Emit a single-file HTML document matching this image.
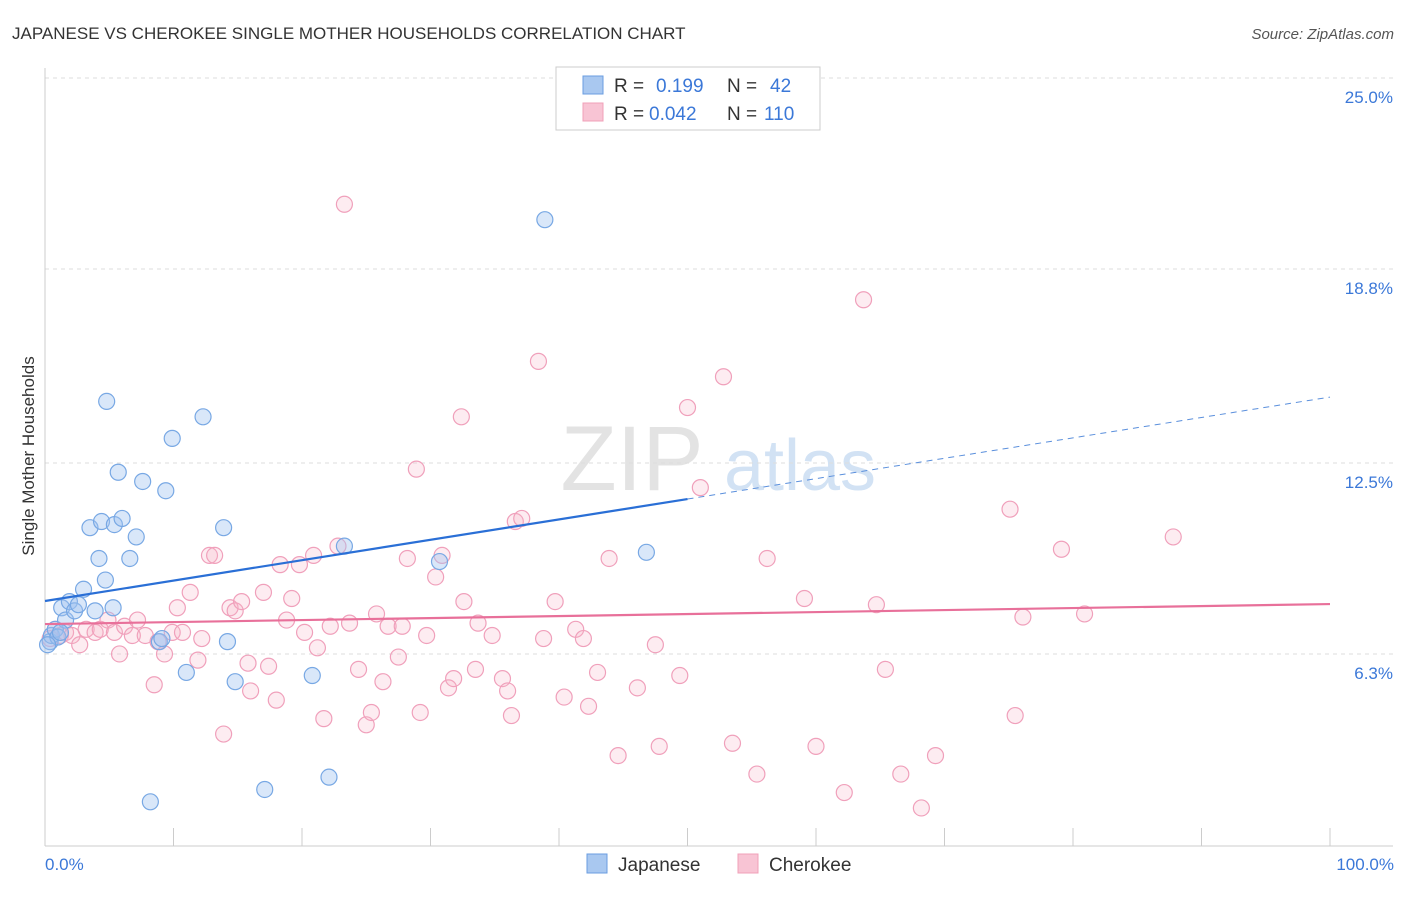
<!DOCTYPE html>
<html><head><meta charset="utf-8"><style>
body{margin:0;background:#fff;font-family:"Liberation Sans",sans-serif;}
svg text{font-family:"Liberation Sans",sans-serif;}
</style></head><body>
<svg id="chart" width="1406" height="892" viewBox="0 0 1406 892" xmlns="http://www.w3.org/2000/svg">
<text x="12" y="39" font-size="17" fill="#333">JAPANESE VS CHEROKEE SINGLE MOTHER HOUSEHOLDS CORRELATION CHART</text>
<text x="1394" y="39" font-size="15" fill="#555" text-anchor="end" font-style="italic">Source: ZipAtlas.com</text>
<g>
<text x="632" y="490" font-size="92" fill="#ddd" text-anchor="middle" font-family="Liberation Serif" opacity="0.8">ZIP</text>
<text x="800" y="490" font-size="72" fill="#c8dcf2" text-anchor="middle" opacity="0.8">atlas</text>
</g>
<g id="grid"></g>
<g id="axes"></g>
<g id="marks"></g>
<text transform="translate(34,456) rotate(-90)" font-size="17" fill="#333" text-anchor="middle">Single Mother Households</text>
<text x="45" y="870" font-size="17" fill="#3b78d8">0.0%</text>
<text x="1394" y="870" font-size="17" fill="#3b78d8" text-anchor="end">100.0%</text>
<g>
<rect x="556" y="67" width="264" height="63" fill="#fff" stroke="#ccc"/>
<rect x="583" y="76" width="20" height="18" fill="#a9c8f0" stroke="#6a9de0"/>
<rect x="583" y="103" width="20" height="18" fill="#f8c4d4" stroke="#f0a0b8"/>
<text x="614" y="92" font-size="19" fill="#333">R =</text>
<text x="656" y="92" font-size="19" fill="#3b78d8">0.199</text>
<text x="727" y="92" font-size="19" fill="#333">N =</text>
<text x="770" y="92" font-size="19" fill="#3b78d8">42</text>
<text x="614" y="120" font-size="19" fill="#333">R =</text>
<text x="649" y="120" font-size="19" fill="#3b78d8">0.042</text>
<text x="727" y="120" font-size="19" fill="#333">N =</text>
<text x="764" y="120" font-size="19" fill="#3b78d8">110</text>
</g>
<g>
<rect x="587" y="854" width="20" height="19" fill="#a9c8f0" stroke="#6a9de0"/>
<text x="618" y="871" font-size="19" fill="#333">Japanese</text>
<rect x="738" y="854" width="20" height="19" fill="#f8c4d4" stroke="#f0a0b8"/>
<text x="769" y="871" font-size="19" fill="#333">Cherokee</text>
</g>
</svg>
<script>
const yTicks=[6.3,12.5,18.8,25.0];
const yTickLabels=["6.3%","12.5%","18.8%","25.0%"];
const xTicks=[0,10,20,30,40,50,60,70,80,90,100];
const japX=[0.4,0.5,0.8,1.0,1.3,1.6,1.9,2.3,2.6,3.0,3.5,3.9,4.2,4.4,4.7,4.8,5.3,5.4,5.7,6.0,6.6,7.1,7.6,8.2,8.9,9.1,9.4,9.9,11.0,12.3,13.9,14.2,14.8,17.1,20.8,22.1,23.3,30.7,38.9,46.8,0.2,1.2];
const japY=[6.7,6.9,7.1,6.85,7.8,7.4,8.0,7.7,7.9,8.4,10.4,7.7,9.4,10.6,8.7,14.5,7.8,10.5,12.2,10.7,9.4,10.1,11.9,1.5,6.7,6.8,11.6,13.3,5.7,14.0,10.4,6.7,5.4,1.9,5.6,2.3,9.8,9.3,20.4,9.6,6.6,7.0];
const cheX=[0.4,0.8,1.2,1.6,2.1,2.7,3.2,3.9,4.3,4.9,5.4,5.8,6.2,6.8,7.2,7.8,8.5,8.8,9.3,9.9,10.3,10.7,11.3,11.9,12.2,12.8,13.2,13.9,14.4,14.8,15.3,15.8,16.0,17.0,17.4,18.0,18.3,18.8,19.2,19.8,20.2,20.9,21.2,21.7,22.2,22.8,23.3,23.7,24.4,25.0,25.4,25.8,26.3,26.7,27.5,27.8,28.2,28.9,29.2,29.7,30.4,30.9,31.4,31.8,32.4,32.6,33.5,33.7,34.8,35.6,36.0,36.3,36.6,37.1,38.4,38.8,39.7,40.4,41.3,41.9,42.3,43.0,43.9,44.6,46.1,47.5,47.8,49.4,50.0,51.0,52.8,53.5,55.4,56.2,59.1,60.0,62.2,63.7,64.7,65.4,66.6,68.2,69.3,75.1,75.5,76.1,79.1,80.9,87.8];
const cheY=[6.8,7.1,6.9,7.0,6.9,6.6,7.1,7.0,7.1,7.4,7.0,6.3,7.2,6.9,7.4,6.9,5.3,6.7,6.3,7.0,7.8,7.0,8.3,6.1,6.8,9.5,9.5,3.7,7.8,7.7,8.0,6.0,5.1,8.3,5.9,4.8,9.2,7.4,8.1,9.2,7.0,9.5,6.5,4.2,7.2,9.8,20.9,7.3,5.8,4.0,4.4,7.6,5.4,7.2,6.2,7.2,9.4,12.3,4.4,6.9,8.8,9.5,5.2,5.5,14.0,8.0,5.8,7.3,6.9,5.5,5.1,4.3,10.6,10.7,15.8,6.8,8.0,4.9,7.1,6.8,4.6,5.7,9.4,3.0,5.2,6.6,3.3,5.6,14.3,11.7,15.3,3.4,2.4,9.4,8.1,3.3,1.8,17.8,7.9,5.8,2.4,1.3,3.0,11.0,4.3,7.5,9.7,7.6,10.1];
const japTrend=[8.02,14.64];
const japSolidEnd=50;
const cheTrend=[7.27,7.92];
const NS="http://www.w3.org/2000/svg";
const sx=v=>45+v*12.85;
const sy=v=>78+(25-v)*30.8;
function mk(tag,attrs,parent){const e=document.createElementNS(NS,tag);for(const k in attrs)e.setAttribute(k,attrs[k]);parent.appendChild(e);return e;}
const grid=document.getElementById('grid'),axes=document.getElementById('axes'),marks=document.getElementById('marks');
yTicks.forEach((t,i)=>{
 const l=mk('line',{x1:45,x2:1393,y1:sy(t),y2:sy(t),stroke:'#ddd','stroke-dasharray':'4,4'},grid);
 
 
 const tx=mk('text',{x:1393,y:sy(t)+25,'font-size':17,fill:'#3b78d8','text-anchor':'end'},grid);
 tx.textContent=yTickLabels[i];
 
 
});
let a=mk('line',{x1:45,x2:45,y1:68,y2:846,stroke:'#ccc'},axes);


a=mk('line',{x1:45,x2:1393,y1:846,y2:846,stroke:'#ccc'},axes);


xTicks.forEach(t=>{
 const l=mk('line',{x1:sx(t),x2:sx(t),y1:828,y2:846,stroke:'#ccc'},axes);
 
 
});
function pts(X,Y,fill,stroke,name){
 X.forEach((x,i)=>{
  const c=mk('circle',{cx:sx(x),cy:sy(Y[i]),r:8,fill:fill,stroke:stroke,'stroke-width':1.2},marks);
  
  
 });
}
pts(cheX,cheY,'rgba(248,180,200,0.25)','#f0a0bb','cherokee-point');
pts(japX,japY,'rgba(160,196,240,0.4)','#78a8e4','japanese-point');
let t=mk('line',{x1:sx(0),y1:sy(cheTrend[0]),x2:sx(100),y2:sy(cheTrend[1]),stroke:'#e8709a','stroke-width':2.2},marks);


const jy=x=>japTrend[0]+(japTrend[1]-japTrend[0])*x/100;
t=mk('line',{x1:sx(0),y1:sy(jy(0)),x2:sx(japSolidEnd),y2:sy(jy(japSolidEnd)),stroke:'#2a6fd6','stroke-width':2.2},marks);


t=mk('line',{x1:sx(japSolidEnd),y1:sy(jy(japSolidEnd)),x2:sx(100),y2:sy(jy(100)),stroke:'#5a8fdc','stroke-width':1,'stroke-dasharray':'6,5'},marks);


</script>
</body></html>
